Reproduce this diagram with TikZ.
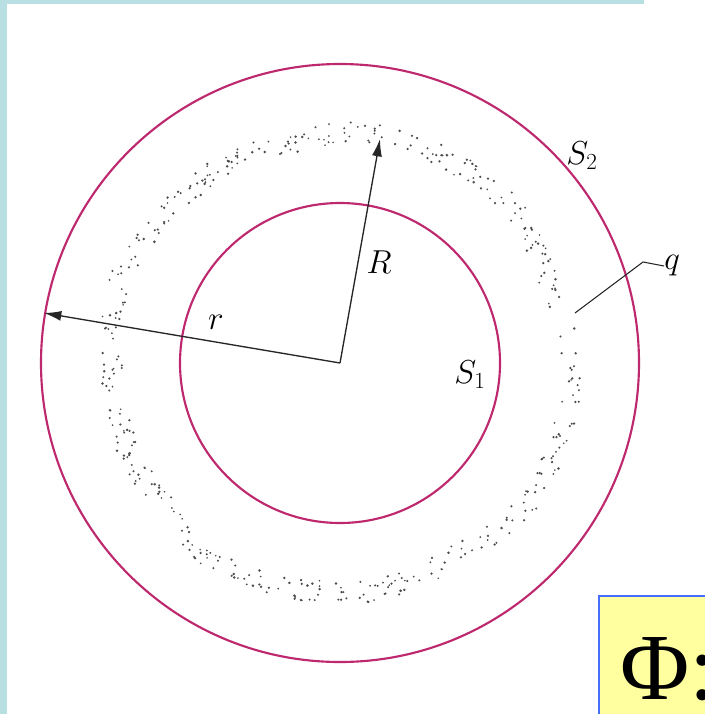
\documentclass[tikz,border=0pt]{standalone}
\usepackage{fontspec}
\setmainfont{Liberation Serif}
\usetikzlibrary{arrows.meta,calc}
\definecolor{ringred}{RGB}{190,40,110}
\definecolor{bandcyan}{RGB}{184,224,226}
\definecolor{boxyellow}{RGB}{255,255,160}
\definecolor{boxblue}{RGB}{70,110,255}
\tikzset{
  surface/.style={draw=ringred, line width=1.6pt},
  vec/.style={draw=black!85, line width=1pt, -{Latex[length=13pt,width=7.5pt]}},
  lab/.style={font=\fontsize{26}{30}\selectfont, inner sep=0pt},
}
\begin{document}
\begin{tikzpicture}[x=0.75pt,y=-0.75pt]
\useasboundingbox (0,0) rectangle (705,714);
\clip (0,0) rectangle (705,714);
\fill[white] (0,0) rectangle (705,714);
% frame bands
\fill[bandcyan] (0,0) rectangle (7,714);
\fill[bandcyan] (0,0) rectangle (644,3.5);
% centre
\coordinate (O) at (340,363);
% dotted charge ring
\pgfmathsetseed{23}
\foreach \i in {1,...,430}{
  \pgfmathsetmacro\ang{rnd*360}
  \pgfmathsetmacro\rad{219+rnd*22+3*sin(4*\ang)+2*cos(9*\ang)}
  \pgfmathsetmacro\sz{0.9+rnd*0.5}
  \fill[black!70] ($(O)+(\ang:\rad)$) circle (\sz);
}
% surfaces
\draw[surface] (O) circle (299);
\draw[surface] (O) circle (160);
% vectors
\coordinate (Rtip) at (380,139);
\coordinate (rtip) at (44,313);
\draw[vec] (O) -- (Rtip);
\draw[vec] (O) -- (rtip);
% labels
\node[lab] (Rl) at (379,262) {$R$};
\node[lab] (rl) at (216,322) {$r$};
\node[lab] (S1) at (470,375) {$S_1$};
\node[lab] (S2) at (582,156) {$S_2$};
\node[lab, anchor=west] (q) at (664,266) {$q$};
\coordinate (qa) at (575,313);
\coordinate (qb) at (643,262);
\draw[black!85, line width=0.8pt] (qa) -- (qb) -- (q.west);
% formula box
\fill[boxyellow] (599,596) rectangle (720,720);
\draw[boxblue, line width=1.2pt] (599,720) -- (599,596) -- (720,596);
\node[anchor=base west, inner sep=0pt, font=\fontsize{71}{80}\selectfont] (phi) at (620,699) {Φ:};
\end{tikzpicture}
\end{document}
